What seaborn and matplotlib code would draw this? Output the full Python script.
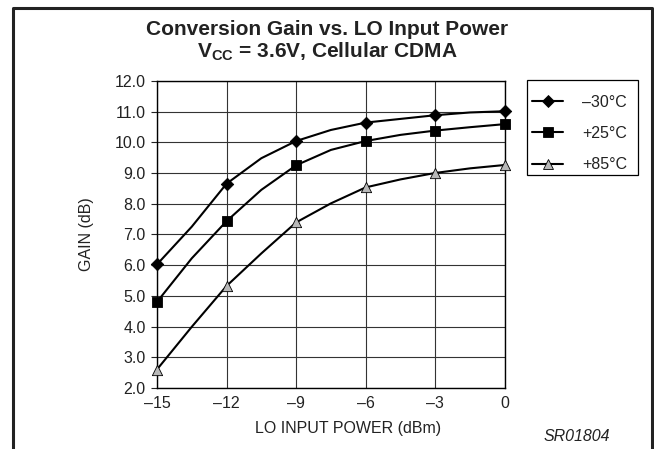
import numpy as np
import pandas as pd
import matplotlib
matplotlib.use('Agg')
import matplotlib.pyplot as plt
import seaborn as sns
from matplotlib.lines import Line2D
from matplotlib.patches import Rectangle

sns.set_style('white')
plt.rcParams['font.family'] = ['Liberation Sans', 'DejaVu Sans']
plt.rcParams['mathtext.fontset'] = 'custom'
plt.rcParams['mathtext.rm'] = 'Liberation Sans'
plt.rcParams['mathtext.bf'] = 'Liberation Sans:bold'

# измеренные точки (маркеры)
lo_power = [-15, -12, -9, -6, -3, 0]
gain_m30 = [6.02, 8.65, 10.04, 10.64, 10.88, 11.01]
gain_p25 = [4.80, 7.43, 9.25, 10.04, 10.38, 10.59]
gain_p85 = [2.60, 5.32, 7.39, 8.53, 9.00, 9.26]

# точки гладкой кривой
curve_x = [-15, -13.5, -12, -10.5, -9, -7.5, -6, -4.5, -3, -1.5, 0]
curve_m30 = [6.02, 7.25, 8.65, 9.48, 10.04, 10.40, 10.64, 10.76, 10.88, 10.97, 11.01]
curve_p25 = [4.80, 6.22, 7.43, 8.45, 9.25, 9.75, 10.04, 10.24, 10.38, 10.49, 10.59]
curve_p85 = [2.60, 3.99, 5.32, 6.38, 7.39, 8.01, 8.53, 8.79, 9.00, 9.15, 9.26]

series = ['–30°C', '+25°C', '+85°C']
x_ticks = [-15, -12, -9, -6, -3, 0]
x_ticklabels = ['–15', '–12', '–9', '–6', '–3', '0']
y_ticks = [2, 3, 4, 5, 6, 7, 8, 9, 10, 11, 12]

curves = pd.DataFrame({
    'x': curve_x * 3,
    'gain': curve_m30 + curve_p25 + curve_p85,
    'temp': [series[0]] * len(curve_x) + [series[1]] * len(curve_x) + [series[2]] * len(curve_x),
})
points = pd.DataFrame({
    'x': lo_power * 3,
    'gain': gain_m30 + gain_p25 + gain_p85,
    'temp': [series[0]] * 6 + [series[1]] * 6 + [series[2]] * 6,
})

markers = {series[0]: 'D', series[1]: 's', series[2]: '^'}
face = {series[0]: 'black', series[1]: 'black', series[2]: '#b8b8b8'}
msize = {series[0]: 40, series[1]: 62, series[2]: 55}
leg_msize = {series[0]: 6.5, series[1]: 7.5, series[2]: 7.5}
txt = '#222222'
fs = 11.5

fig = plt.figure(figsize=(6.54, 4.49), dpi=100)
ax = fig.add_axes([0.240, 0.136, 0.532, 0.684])

sns.lineplot(data=curves, x='x', y='gain', hue='temp', palette=['black'] * 3,
             linewidth=1.5, legend=False, ax=ax, zorder=3)
for s in series:
    sns.scatterplot(data=points[points['temp'] == s], x='x', y='gain', marker=markers[s],
                    color=face[s], edgecolor='black', linewidth=0.6, s=msize[s],
                    legend=False, ax=ax, zorder=4, clip_on=False)

ax.set_xlim(-15, 0)
ax.set_ylim(2, 12)
ax.set_xticks(x_ticks)
ax.set_xticklabels(x_ticklabels)
ax.set_yticks(y_ticks)
ax.set_yticklabels([f'{v:.1f}' for v in y_ticks])
ax.grid(True, color='#333333', linewidth=0.8)
for sp in ax.spines.values():
    sp.set_color('black')
    sp.set_linewidth(1.0)
ax.tick_params(axis='both', labelsize=fs, colors=txt, length=4, width=0.8, direction='out',
               left=True, bottom=False)
ax.tick_params(axis='y', pad=4)
ax.tick_params(axis='x', pad=2)

ax.set_xlabel('LO INPUT POWER (dBm)', fontsize=fs, color=txt)
ax.set_ylabel('GAIN (dB)', fontsize=fs, color=txt)
ax.xaxis.set_label_coords(0.549, -0.107)
ax.yaxis.set_label_coords(-0.181, 0.5)

fig.text(0.5, 0.935, 'Conversion Gain vs. LO Input Power', ha='center', va='center',
         fontsize=15, fontweight='bold', color=txt)
fig.text(0.5, 0.884, r'V$_{\mathbf{CC}}$ = 3.6V, Cellular CDMA', ha='center', va='center',
         fontsize=15, fontweight='bold', color=txt)
fig.text(0.882, 0.027, 'SR01804', ha='center', va='center', fontsize=fs, style='italic',
         color=txt)

# легенда: рамка отдельно, чтобы точно задать отступы
handles = [Line2D([], [], color='black', lw=1.5, marker=markers[s], markersize=leg_msize[s],
                  markerfacecolor=face[s], markeredgecolor='black', markeredgewidth=0.6)
           for s in series]
leg = fig.legend(handles, series, loc='center left', bbox_to_anchor=(532 / 654, 1 - 133.5 / 449),
                 frameon=False, fontsize=fs, handlelength=1.95, labelspacing=1.02,
                 borderpad=0, handletextpad=1.2, borderaxespad=0, labelcolor=txt)
fig.add_artist(Rectangle((527 / 654, 1 - 175 / 449), 111 / 654, 95 / 449, transform=fig.transFigure,
                         fill=False, edgecolor='black', linewidth=0.9))

# рамка вокруг рисунка (без нижней стороны)
fig.add_artist(Line2D([12.5 / 654, 12.5 / 654, 652 / 654, 652 / 654],
                      [0, 1 - 7.5 / 449, 1 - 7.5 / 449, 0],
                      color='#222222', lw=2.2, transform=fig.transFigure))

fig.savefig('out.png', dpi=100)
